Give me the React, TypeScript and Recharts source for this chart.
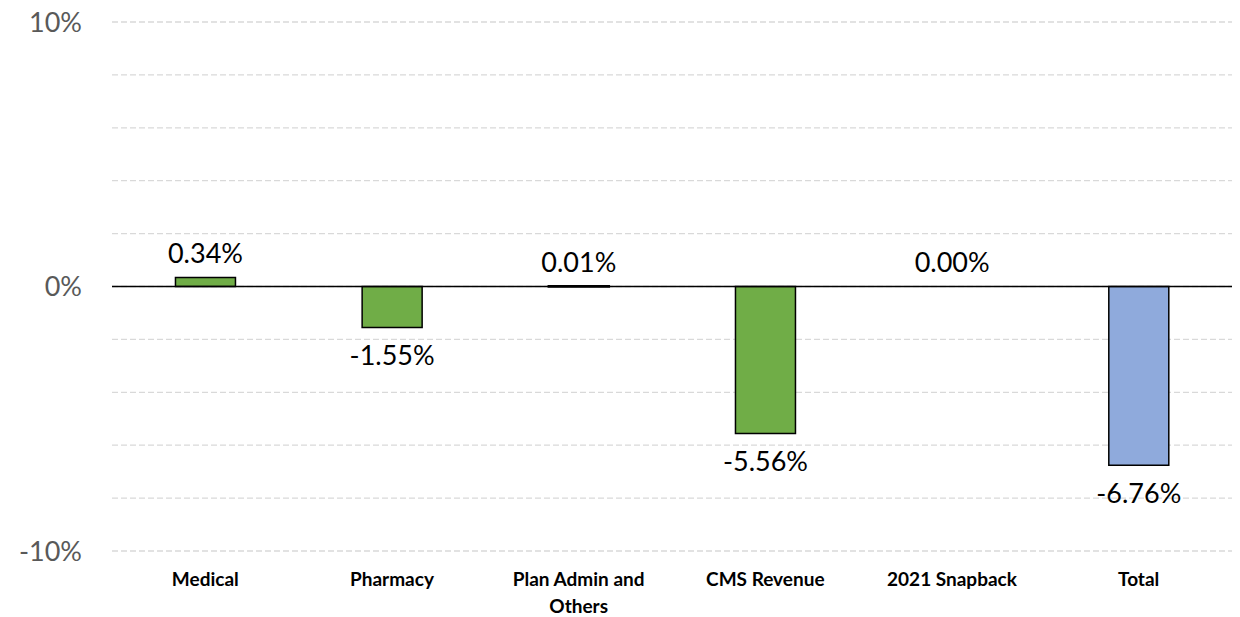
import React from 'react';
import { BarChart, Bar, XAxis, YAxis, CartesianGrid, ReferenceLine, LabelList, Cell } from 'recharts';

const categories = ['Medical', 'Pharmacy', 'Plan Admin and Others', 'CMS Revenue', '2021 Snapback', 'Total'];
const changes = [0.34, -1.55, 0.01, -5.56, 0.0, -6.76];
const barColors = ['#70AD47', '#70AD47', '#70AD47', '#70AD47', '#70AD47', '#8FAADC'];
const yTicks = [-10, -8, -6, -4, -2, 0, 2, 4, 6, 8, 10];
const yTickLabels = ['-10%', '', '', '', '', '0%', '', '', '', '', '10%'];

const chartData = categories.map((name, i) => ({ name, value: changes[i] }));

const FONT = 'Lato, "Open Sans", sans-serif';

// wrap long category names onto two lines like the original
const CategoryTick = ({ x, y, payload }: any) => {
  const words = String(payload.value).split(' ');
  const lines: string[] = [];
  let cur = '';
  words.forEach(w => {
    const next = cur ? cur + ' ' + w : w;
    if (next.length > 15 && cur) {
      lines.push(cur);
      cur = w;
    } else {
      cur = next;
    }
  });
  if (cur) lines.push(cur);
  return (
    <text x={x} y={y} textAnchor="middle" fontFamily={FONT} fontSize={19} fontWeight="bold" fill="#000">
      {lines.map((line, i) => (
        <tspan key={i} x={x} dy={i === 0 ? 0 : 27}>{line}</tspan>
      ))}
    </text>
  );
};

const ValueLabel = ({ x, y, width, height, value }: any) => {
  const top = Math.min(y, y + height);
  const bottom = Math.max(y, y + height);
  const ly = value < 0 ? bottom + 27 : top - 25;
  return (
    <text x={x + width / 2} y={ly} textAnchor="middle" dominantBaseline="central" fontFamily={FONT} fontSize={27} fill="#000">
      {`${Number(value).toFixed(2)}%`}
    </text>
  );
};

export default function App() {
  return (
    <div style={{ position: 'absolute', left: 0, top: 0, background: '#fff' }}>
      <BarChart
        width={1240}
        height={617}
        data={chartData}
        margin={{ top: 22, right: 8, left: 0, bottom: 0 }}
        barCategoryGap="34%"
      >
        <CartesianGrid vertical={false} stroke="#D9D9D9" strokeDasharray="6 3" strokeWidth={1.3} />
        <XAxis
          dataKey="name"
          axisLine={false}
          tickLine={false}
          height={66}
          tickSize={0}
          tickMargin={0}
          interval={0}
          tick={(props: any) => <CategoryTick {...props} y={props.y + 35} />}
        />
        <YAxis
          domain={[-10, 10]}
          ticks={yTicks}
          width={112}
          axisLine={false}
          tickLine={false}
          tickSize={0}
          tickMargin={30}
          tick={{ fill: '#595959', fontSize: 27, fontFamily: FONT }}
          tickFormatter={(v: number) => yTickLabels[yTicks.indexOf(v)] ?? ''}
        />
        <ReferenceLine y={0} stroke="#000" strokeWidth={1.6} />
        <Bar
          dataKey="value"
          stroke="#000"
          strokeWidth={1.5}
          minPointSize={(v: number) => (v === 0 ? 0.5 : 0)}
          isAnimationActive={false}
        >
          {chartData.map((d, i) => (
            <Cell key={i} fill={barColors[i]} stroke={d.value === 0 ? 'none' : '#000'} strokeWidth={d.value === 0.01 ? 2.5 : 1.5} />
          ))}
          <LabelList dataKey="value" content={<ValueLabel />} />
        </Bar>
      </BarChart>
    </div>
  );
}
